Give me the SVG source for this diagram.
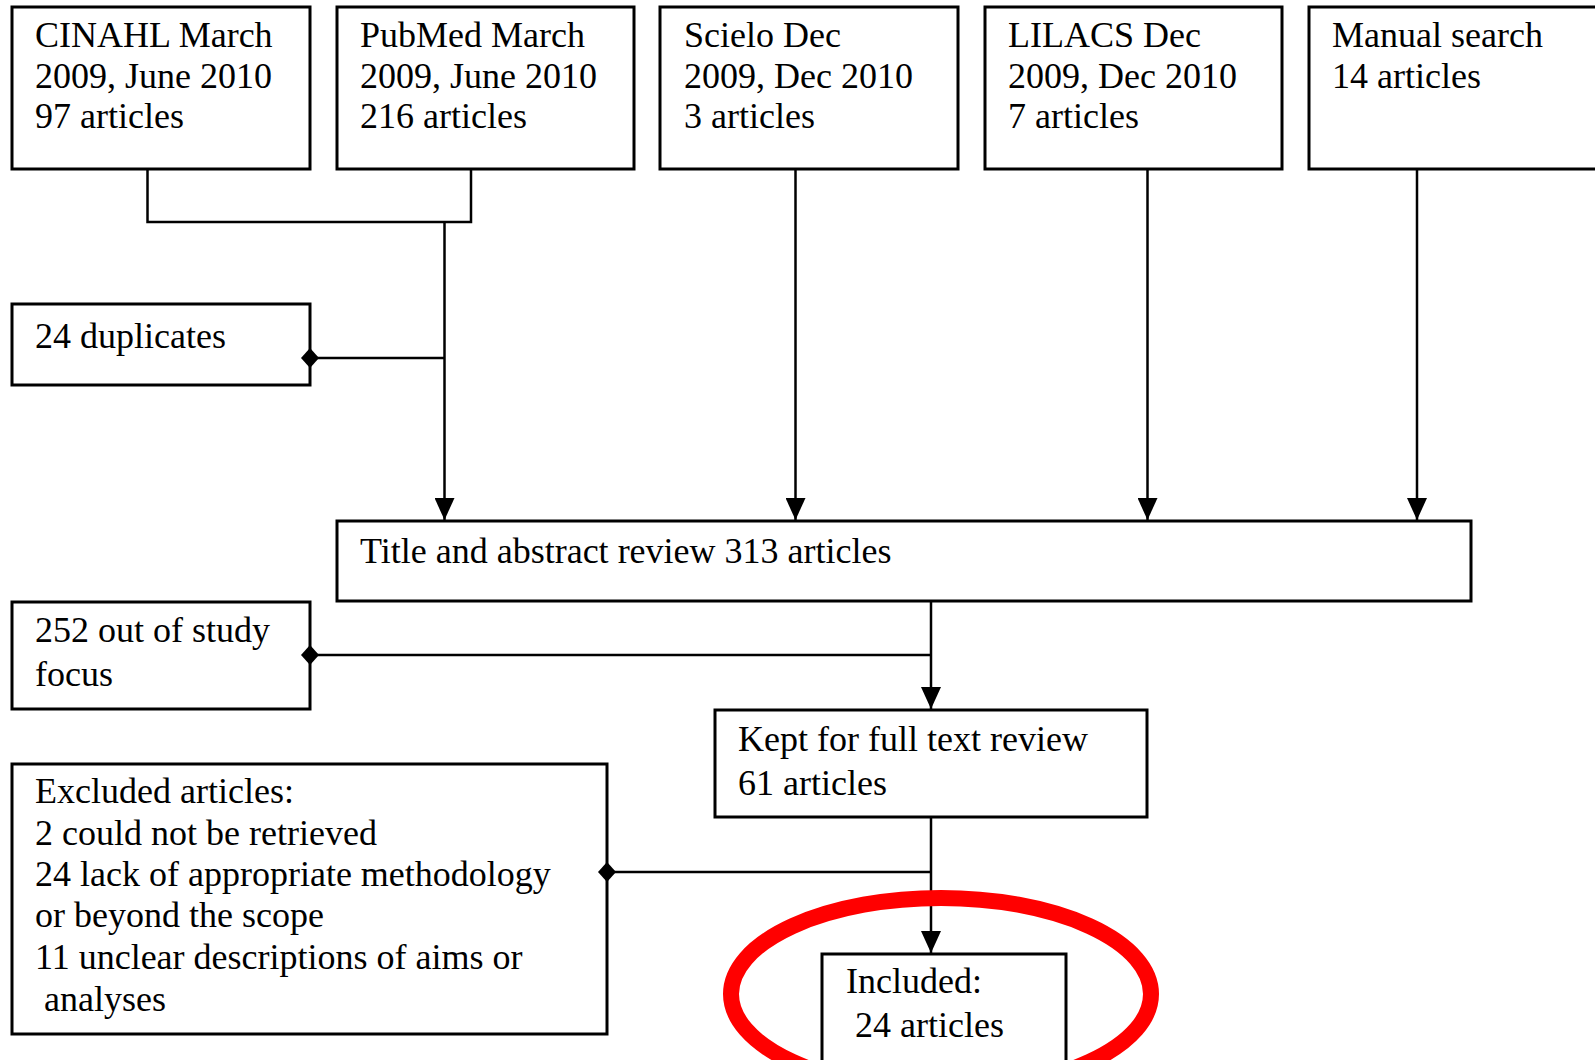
<svg xmlns="http://www.w3.org/2000/svg" width="1595" height="1060" viewBox="0 0 1595 1060">
<style>
.box{fill:#fff;stroke:#000;stroke-width:3}
.t{font-family:"Liberation Serif","Times New Roman",serif;font-size:36px;fill:#000}
.c{fill:none;stroke:#000;stroke-width:2.5}
</style>
<defs>
<marker id="arr" markerUnits="userSpaceOnUse" markerWidth="22" markerHeight="20" viewBox="0 0 22 20" refX="22" refY="10" orient="auto">
<path d="M0,0 L22,10 L0,20 Z" fill="#000"/>
</marker>
<marker id="dia" markerUnits="userSpaceOnUse" markerWidth="18" markerHeight="20" viewBox="0 0 18 20" refX="9" refY="10" orient="0">
<path d="M9,0 L18,10 L9,20 L0,10 Z" fill="#000"/>
</marker>
</defs>
<rect width="1595" height="1060" fill="#fff"/>
<g id="cinahl"><rect class="box" x="12" y="7" width="298" height="162"/>
<text class="t" x="35" y="47">CINAHL March</text><text class="t" x="35" y="88">2009, June 2010</text><text class="t" x="35" y="128">97 articles</text></g>
<g id="pubmed"><rect class="box" x="337" y="7" width="297" height="162"/>
<text class="t" x="360" y="47">PubMed March</text><text class="t" x="360" y="88">2009, June 2010</text><text class="t" x="360" y="128">216 articles</text></g>
<g id="scielo"><rect class="box" x="660" y="7" width="298" height="162"/>
<text class="t" x="684" y="47">Scielo Dec</text><text class="t" x="684" y="88">2009, Dec 2010</text><text class="t" x="684" y="128">3 articles</text></g>
<g id="lilacs"><rect class="box" x="985" y="7" width="297" height="162"/>
<text class="t" x="1008" y="47">LILACS Dec</text><text class="t" x="1008" y="88">2009, Dec 2010</text><text class="t" x="1008" y="128">7 articles</text></g>
<g id="manual"><rect class="box" x="1309" y="7" width="300" height="162"/>
<text class="t" x="1332" y="47">Manual search</text><text class="t" x="1332" y="88">14 articles</text></g>
<g id="duplicates"><rect class="box" x="12" y="304" width="298" height="81"/>
<text class="t" x="35" y="348">24 duplicates</text></g>
<g id="title"><rect class="box" x="337" y="521" width="1134" height="80"/>
<text class="t" x="360" y="563">Title and abstract review 313 articles</text></g>
<g id="outofstudy"><rect class="box" x="12" y="602" width="298" height="107"/>
<text class="t" x="35" y="642">252 out of study</text><text class="t" x="35" y="686">focus</text></g>
<g id="kept"><rect class="box" x="715" y="710" width="432" height="107"/>
<text class="t" x="738" y="751">Kept for full text review</text><text class="t" x="738" y="795">61 articles</text></g>
<g id="excluded"><rect class="box" x="12" y="764" width="595" height="270"/>
<text class="t" x="35" y="803">Excluded articles:</text><text class="t" x="35" y="845">2 could not be retrieved</text><text class="t" x="35" y="886">24 lack of appropriate methodology</text><text class="t" x="35" y="927">or beyond the scope</text><text class="t" x="35" y="969">11 unclear descriptions of aims or</text><text class="t" x="35" y="1011" xml:space="preserve"> analyses</text></g>
<g id="included"><rect class="box" x="822" y="954" width="244" height="120"/>
<text class="t" x="846" y="993">Included:</text><text class="t" x="846" y="1037" xml:space="preserve"> 24 articles</text></g>
<g id="connectors">
<path class="c" d="M147.5,169 V222 H471 V169"/>
<path class="c" d="M444.5,222 V520" marker-end="url(#arr)"/>
<path class="c" d="M444.5,358 H310" marker-end="url(#dia)"/>
<path class="c" d="M795.5,169 V520" marker-end="url(#arr)"/>
<path class="c" d="M1147.5,169 V520" marker-end="url(#arr)"/>
<path class="c" d="M1417,169 V520" marker-end="url(#arr)"/>
<path class="c" d="M931,601 V709" marker-end="url(#arr)"/>
<path class="c" d="M931,655 H310" marker-end="url(#dia)"/>
<path class="c" d="M931,817 V953" marker-end="url(#arr)"/>
<path class="c" d="M931,872 H607" marker-end="url(#dia)"/>
</g>
<ellipse id="highlight" cx="941" cy="994" rx="210" ry="96" fill="none" stroke="#ff0000" stroke-width="16"/>
</svg>
